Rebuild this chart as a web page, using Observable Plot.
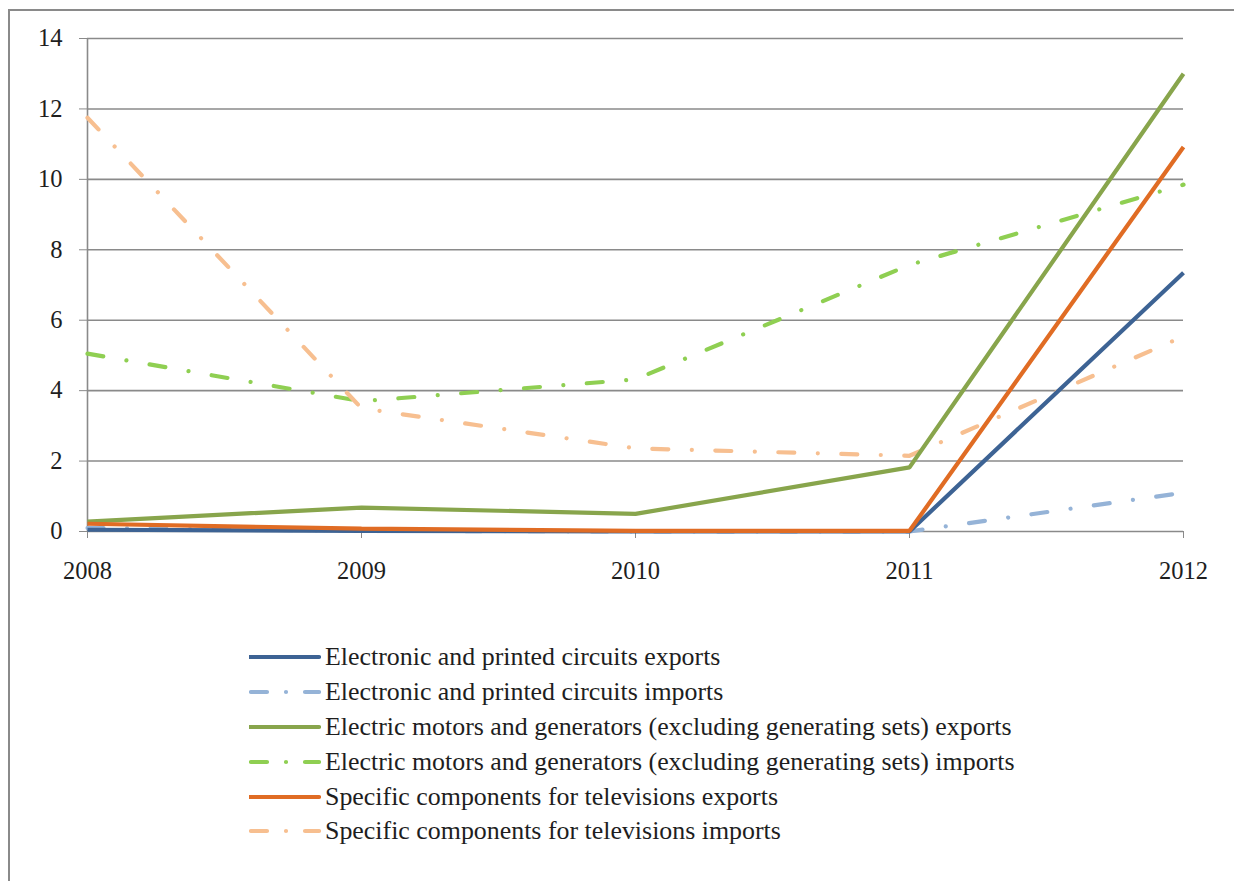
<!DOCTYPE html>
<html><head><meta charset="utf-8">
<script src="https://cdn.jsdelivr.net/npm/d3@7"></script>
<script src="https://cdn.jsdelivr.net/npm/@observablehq/plot@0.6"></script>
<style>
html,body{margin:0;padding:0;background:#fff;}
#wrap{position:relative;width:1234px;height:881px;overflow:hidden;font-family:"Liberation Serif","Times New Roman",serif;}
#frame{position:absolute;left:8px;top:9px;width:1300px;height:1000px;border-left:2px solid #8a8a8a;border-top:2px solid #8a8a8a;}
#chart{position:absolute;left:0;top:0;}
#legend{position:absolute;left:249px;top:640px;}
.item{display:flex;align-items:center;height:34.8px;font-size:25.9px;color:#1e1e1e;}
.item svg{margin-right:4px;}
</style></head>
<body><div id="wrap"><div id="frame"></div><div id="chart"></div><div id="legend"></div></div>
<script>
const years = [2008, 2009, 2010, 2011, 2012];
const seriesNames = [
  "Electronic and printed circuits exports",
  "Electronic and printed circuits imports",
  "Electric motors and generators (excluding generating sets) exports",
  "Electric motors and generators (excluding generating sets) imports",
  "Specific components for televisions exports",
  "Specific components for televisions imports"
];
const circuitsExports = [0.05, 0.02, 0.0, 0.0, 7.35];
const circuitsImports = [0.1, 0.02, 0.0, 0.0, 1.1];
const motorsExports = [0.28, 0.68, 0.5, 1.82, 13.0];
const motorsImports = [5.05, 3.7, 4.32, 7.57, 9.85];
const tvExports = [0.22, 0.08, 0.02, 0.02, 10.92];
const tvImports = [11.75, 3.5, 2.36, 2.15, 5.54];
const yTicks = [0, 2, 4, 6, 8, 10, 12, 14];

const allValues = [circuitsExports, circuitsImports, motorsExports, motorsImports, tvExports, tvImports];
const colors = ["#3D6394", "#95B3D7", "#88A54C", "#8FCF52", "#E06C24", "#F7BF90"];
const dashed = [false, true, false, true, false, true];
const dashPattern = "16 23.5 0.01 23.5";
const drawOrder = [3, 5, 1, 0, 2, 4];

const marks = [
  Plot.gridY(yTicks, {stroke: "#8a8a8a", strokeOpacity: 1, strokeWidth: 1.6}),
  Plot.ruleX([2008], {stroke: "#8a8a8a", strokeWidth: 1.6}),
  Plot.axisY(yTicks, {label: null, tickSize: 8, tickPadding: 17, stroke: "#8a8a8a", fontSize: 24.5, fill: "#1e1e1e", tickFormat: d => d}),
  Plot.axisX(years, {label: null, tickSize: 7, tickPadding: 23, stroke: "#8a8a8a", fontSize: 24.5, fill: "#1e1e1e", tickFormat: d => String(d)})
];
for (const i of drawOrder) {
  const data = years.map((y, k) => ({year: y, value: allValues[i][k]}));
  marks.push(Plot.line(data, {
    x: "year", y: "value", stroke: colors[i], strokeWidth: 4.2,
    strokeLinecap: dashed[i] ? "round" : "butt", strokeLinejoin: "miter",
    strokeDasharray: dashed[i] ? dashPattern : null
  }));
}
const chart = Plot.plot({
  width: 1234, height: 600,
  marginLeft: 87, marginRight: 51, marginTop: 38, marginBottom: 69,
  style: {fontFamily: "'Liberation Serif','Times New Roman',serif", background: "transparent", overflow: "visible"},
  x: {domain: [2008, 2012], axis: null, label: null},
  y: {domain: [0, 14], axis: null, label: null},
  marks
});
document.getElementById("chart").appendChild(chart);

const legend = document.getElementById("legend");
seriesNames.forEach((name, i) => {
  const item = document.createElement("div");
  item.className = "item";
  const ns = "http://www.w3.org/2000/svg";
  const s = document.createElementNS(ns, "svg");
  s.setAttribute("width", 72); s.setAttribute("height", 10);
  const l = document.createElementNS(ns, "line");
  l.setAttribute("x1", dashed[i] ? 2 : 1); l.setAttribute("x2", 70);
  l.setAttribute("y1", 5); l.setAttribute("y2", 5);
  l.setAttribute("stroke", colors[i]); l.setAttribute("stroke-width", 4.2);
  l.setAttribute("stroke-linecap", "round");
  if (dashed[i]) l.setAttribute("stroke-dasharray", "16 19 0.01 19");
  s.appendChild(l);
  item.appendChild(s);
  const t = document.createElement("span");
  t.textContent = name;
  item.appendChild(t);
  legend.appendChild(item);
});
</script></body></html>
